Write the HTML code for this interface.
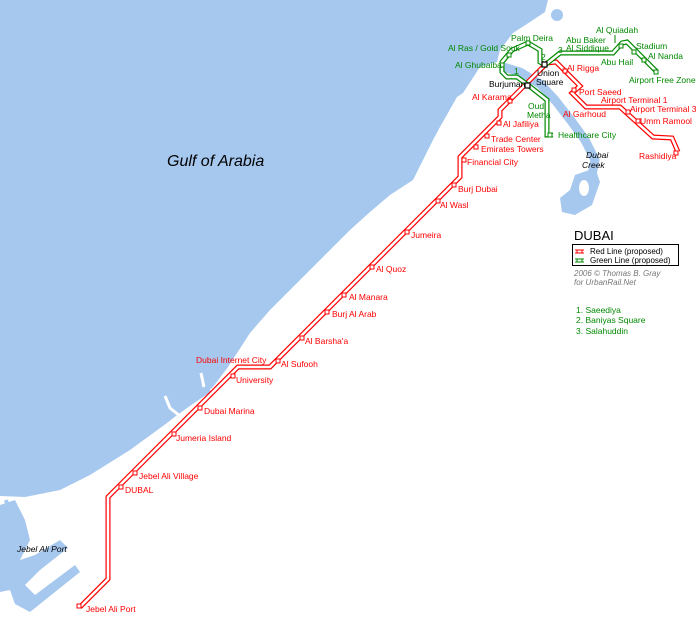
<!DOCTYPE html>
<html><head><meta charset="utf-8"><style>
html,body{margin:0;padding:0;background:#fff;}
svg{display:block}
text{font-family:"Liberation Sans",sans-serif;font-size:8.5px;}
.r{fill:#f00}.g{fill:#080}.k{fill:#000}
</style></head><body>
<svg width="700" height="624" viewBox="0 0 700 624" xmlns="http://www.w3.org/2000/svg">
<!-- sea -->
<path fill="#a6c8ee" d="M0,0 L548,0 L545,12 L530,22 L513,33 L500,50 L497,62 L480,67 L463,93 L457,97 L440,127 L433,140 L413,180 L390,195 L370,212 L350,230 L317,263 L293,287 L270,310 L250,333 L228,367 L213,387 L190,405 L167,423 L130,450 L90,475 L60,490 L25,497 L0,496 Z"/>
<path fill="none" stroke="#fff" stroke-width="3" d="M201,373 L204,387 M165,396 L170,408 L180,416"/>
<path fill="none" stroke="#a6c8ee" stroke-width="4" d="M178,412 L195,400 L210,390"/>
<path fill="#a6c8ee" d="M0,505 L15,500 L25,520 L30,540 L20,560 L35,555 L60,540 L68,548 L40,570 L25,585 L35,595 L75,565 L80,572 L30,612 L15,604 L10,590 L0,592 Z"/>
<path fill="none" stroke="#a6c8ee" stroke-width="4" d="M6,500 L12,525 L22,535"/>
<!-- creek -->
<path fill="none" stroke="#a6c8ee" stroke-width="9" stroke-linejoin="round" d="M500,66 L520,72 L540,84 L555,100 L572,122 L585,140 L595,160 L592,175"/>
<path fill="#a6c8ee" d="M575,175 L595,168 L600,182 L592,205 L575,215 L562,212 L560,198 L570,190 Z"/>
<ellipse cx="584" cy="188" rx="5" ry="8" fill="#fff"/>
<circle cx="557" cy="15" r="6" fill="#a6c8ee"/>
<!-- lines -->
<g fill="none" stroke-linejoin="miter">
<path stroke="#f00" stroke-width="5" d="M80,607 L108,579 L108,497 L238,367 L270,367 L460,177 L460,157 L500,117 L500,110 L547,63 L556,62 L580,86 L572,93 L586,107 L620,107 L653,137 L672,138 L678,152"/>
<path stroke="#fff" stroke-width="2.6" d="M80,607 L108,579 L108,497 L238,367 L270,367 L460,177 L460,157 L500,117 L500,110 L547,63 L556,62 L580,86 L572,93 L586,107 L620,107 L653,137 L672,138 L678,152"/>
<path stroke="#080" stroke-width="5" d="M553,135 L547,135 L547,100 L528,85 L517,77 L507,77 L502,72 L502,62 L512,50 L528,43 L540,50 L540,62 L545,65 L560,53 L613,53 L622,43 L627,42 L657,72"/>
<path stroke="#fff" stroke-width="2.6" d="M553,135 L547,135 L547,100 L528,85 L517,77 L507,77 L502,72 L502,62 L512,50 L528,43 L540,50 L540,62 L545,65 L560,53 L613,53 L622,43 L627,42 L657,72"/>
<path stroke="#080" stroke-width="1" d="M615,35 L615,43"/>
</g>
<!-- stations -->
<g fill="#fff" stroke="#f00" stroke-width="1">
<rect x="77" y="604" width="4" height="4"/><rect x="119" y="485" width="4" height="4"/><rect x="133" y="471" width="4" height="4"/>
<rect x="172" y="432" width="4" height="4"/><rect x="198" y="406" width="4" height="4"/><rect x="231" y="374" width="4" height="4"/>
<rect x="276" y="359" width="4" height="4"/><rect x="300" y="336" width="4" height="4"/><rect x="325" y="310" width="4" height="4"/>
<rect x="342" y="293" width="4" height="4"/><rect x="370" y="265" width="4" height="4"/><rect x="405" y="230" width="4" height="4"/>
<rect x="436" y="199" width="4" height="4"/><rect x="452" y="183" width="4" height="4"/><rect x="462" y="158" width="4" height="4"/>
<rect x="474" y="145" width="4" height="4"/><rect x="485" y="134" width="4" height="4"/><rect x="497" y="121" width="4" height="4"/>
<rect x="508" y="99" width="4" height="4"/><rect x="563" y="69" width="4" height="4"/><rect x="572" y="88" width="4" height="4"/>
<rect x="626" y="110" width="4" height="4"/><rect x="636" y="119" width="4" height="4"/><rect x="674" y="151" width="4" height="4"/>
</g>
<g fill="#fff" stroke="#080" stroke-width="1">
<rect x="526" y="41" width="4" height="4"/><rect x="507" y="53" width="4" height="4"/><rect x="500" y="63" width="4" height="4"/>
<rect x="619" y="44" width="4" height="4"/><rect x="632" y="50" width="4" height="4"/><rect x="642" y="58" width="4" height="4"/>
<rect x="654" y="70" width="4" height="4"/><rect x="548" y="133" width="4" height="4"/>
</g>
<g fill="#fff" stroke="#000" stroke-width="1.2">
<rect x="542" y="62" width="5" height="5"/><rect x="525" y="83" width="5" height="5"/>
</g>
<g class="r">
<text x="567" y="71">Al Rigga</text><text x="579" y="95">Port Saeed</text><text x="601" y="103">Airport Terminal 1</text>
<text x="630" y="112">Airport Terminal 3</text><text x="563" y="117">Al Garhoud</text><text x="640" y="124">Umm Ramool</text>
<text x="639" y="159">Rashidiya</text><text x="472" y="100">Al Karama</text><text x="503" y="127">Al Jafiliya</text>
<text x="491" y="142">Trade Center</text><text x="481" y="152">Emirates Towers</text><text x="467" y="165">Financial City</text>
<text x="458" y="192">Burj Dubai</text><text x="440" y="208">Al Wasl</text><text x="411" y="238">Jumeira</text>
<text x="376" y="272">Al Quoz</text><text x="349" y="300">Al Manara</text><text x="332" y="317">Burj Al Arab</text>
<text x="305" y="344">Al Barsha'a</text><text x="281" y="367">Al Sufooh</text><text x="196" y="363">Dubai Internet City</text>
<text x="236" y="383">University</text><text x="204" y="414">Dubai Marina</text><text x="176" y="441">Jumeria Island</text>
<text x="139" y="479">Jebel Ali Village</text><text x="125" y="493">DUBAL</text><text x="86" y="612">Jebel Ali Port</text>
</g>
<g class="g">
<text x="511" y="41">Palm Deira</text><text x="448" y="51">Al Ras / Gold Souk</text><text x="455" y="68">Al Ghubaiba</text>
<text x="514" y="74">1</text><text x="541" y="60">2</text><text x="558" y="53">3</text>
<text x="566" y="43">Abu Baker</text><text x="566" y="51">Al Siddique</text><text x="596" y="33">Al Quiadah</text>
<text x="636" y="49">Stadium</text><text x="648" y="59">Al Nanda</text><text x="601" y="65">Abu Hail</text>
<text x="629" y="83">Airport Free Zone</text><text x="528" y="109">Oud</text><text x="527" y="118">Metha</text>
<text x="558" y="138">Healthcare City</text>
</g>
<g class="k">
<text x="489" y="87">Burjuman</text><text x="537" y="76">Union</text><text x="536" y="85">Square</text>
<text x="167" y="166" style="font-size:16px;font-style:italic">Gulf of Arabia</text>
<text x="586" y="158" style="font-style:italic">Dubai</text><text x="582" y="168" style="font-style:italic">Creek</text>
<text x="17" y="552" style="font-style:italic">Jebel Ali Port</text>
<text x="574" y="240" style="font-size:13px">DUBAI</text>
</g>
<rect x="572.5" y="244.5" width="106" height="21" fill="#fff" stroke="#000" stroke-width="1"/>
<g stroke="#f00" stroke-width="1"><path d="M575,250 H584 M575,253 H584 M577,250 V253 M582,250 V253"/></g>
<g stroke="#080" stroke-width="1"><path d="M575,259 H584 M575,262 H584 M577,259 V262 M582,259 V262"/></g>
<text x="590" y="254" style="font-size:8px">Red Line (proposed)</text>
<text x="590" y="263" style="font-size:8px">Green Line (proposed)</text>
<text x="574" y="276" style="font-size:8px;font-style:italic;fill:#777">2006 © Thomas B. Gray</text>
<text x="574" y="285" style="font-size:8px;font-style:italic;fill:#777">for UrbanRail.Net</text>
<g class="g"><text x="576" y="313">1. Saeediya</text><text x="576" y="323">2. Baniyas Square</text><text x="576" y="334">3. Salahuddin</text></g>
</svg>
</body></html>
